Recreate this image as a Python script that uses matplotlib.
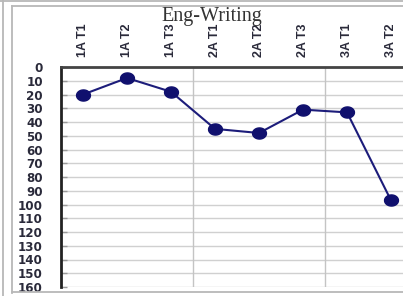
import matplotlib
matplotlib.use("Agg")
import matplotlib.pyplot as plt
from matplotlib.path import Path
from matplotlib.lines import Line2D
import numpy as np

categories = ["1A T1", "1A T2", "1A T3", "2A T1", "2A T2", "2A T3", "3A T1", "3A T2"]
values = [20, 8, 18, 45, 48, 31, 33, 97]
yticks = list(range(0, 161, 10))
title = "Eng-Writing"

W, H = 403, 296
fig = plt.figure(figsize=(W / 100, H / 100), dpi=100)
fig.patch.set_facecolor("white")

# outer frames
fc = "#b8b8b8"
def fline(x0, y0, x1, y1, lw=1.3, c=fc):
    fig.add_artist(Line2D([x0 / W, x1 / W], [1 - y0 / H, 1 - y1 / H],
                          transform=fig.transFigure, color=c, lw=lw))
fline(3, 0, 3, H)
fline(0, 1, W, 1)
fline(12, 6, 12, 293)
fline(12, 6, W, 6)
fline(12, 292, W, 292)

left, top, bottom = 61, 67, 287
ax = fig.add_axes([left / W, 1 - bottom / H, 352 / W, (bottom - top) / H])
ax.set_facecolor("none")

x = np.arange(len(categories))
# ellipse marker (slightly wide)
t = np.linspace(0, 2 * np.pi, 40)
ell = Path(np.column_stack([np.cos(t), 0.8 * np.sin(t)]), closed=True)
ax.plot(x, values, color="#1c1c7a", lw=1.5, marker=ell, markersize=10,
        markerfacecolor="#10106e", markeredgecolor="#10106e", zorder=5)

ax.set_xlim(-0.5, 7.5)
ax.set_ylim(160, 0)
ax.set_yticks(yticks)
ax.set_yticklabels([str(v) for v in yticks], fontfamily="DejaVu Sans",
                   fontweight="bold", fontsize=8.6, color="#2a2a3a")
for v in yticks:
    ax.axhline(v, color="#d0d0d0", lw=1, zorder=1)
for b in [2.5, 5.5]:
    ax.axvline(b, color="#c4c4c4", lw=1, zorder=1)

ax.tick_params(axis="y", direction="in", length=4, width=1, color="#999999", pad=13)
ax.xaxis.tick_top()
ax.set_xticks(x)
ax.set_xticklabels(categories, rotation=90, fontfamily="Liberation Sans",
                   fontweight="bold", fontsize=9, color="#2a2a3a")
ax.tick_params(axis="x", length=0, pad=7)

ax.spines["bottom"].set_visible(False)
ax.spines["right"].set_visible(False)
ax.spines["left"].set_color("#222222")
ax.spines["left"].set_linewidth(2)
ax.spines["top"].set_color("#444444")
ax.spines["top"].set_linewidth(2)

fig.text(212 / W, 1 - 17 / H, title, fontfamily="Liberation Serif", fontsize=14.5,
         color="#333333", ha="center", va="center")

fig.savefig("out.png", dpi=100)
